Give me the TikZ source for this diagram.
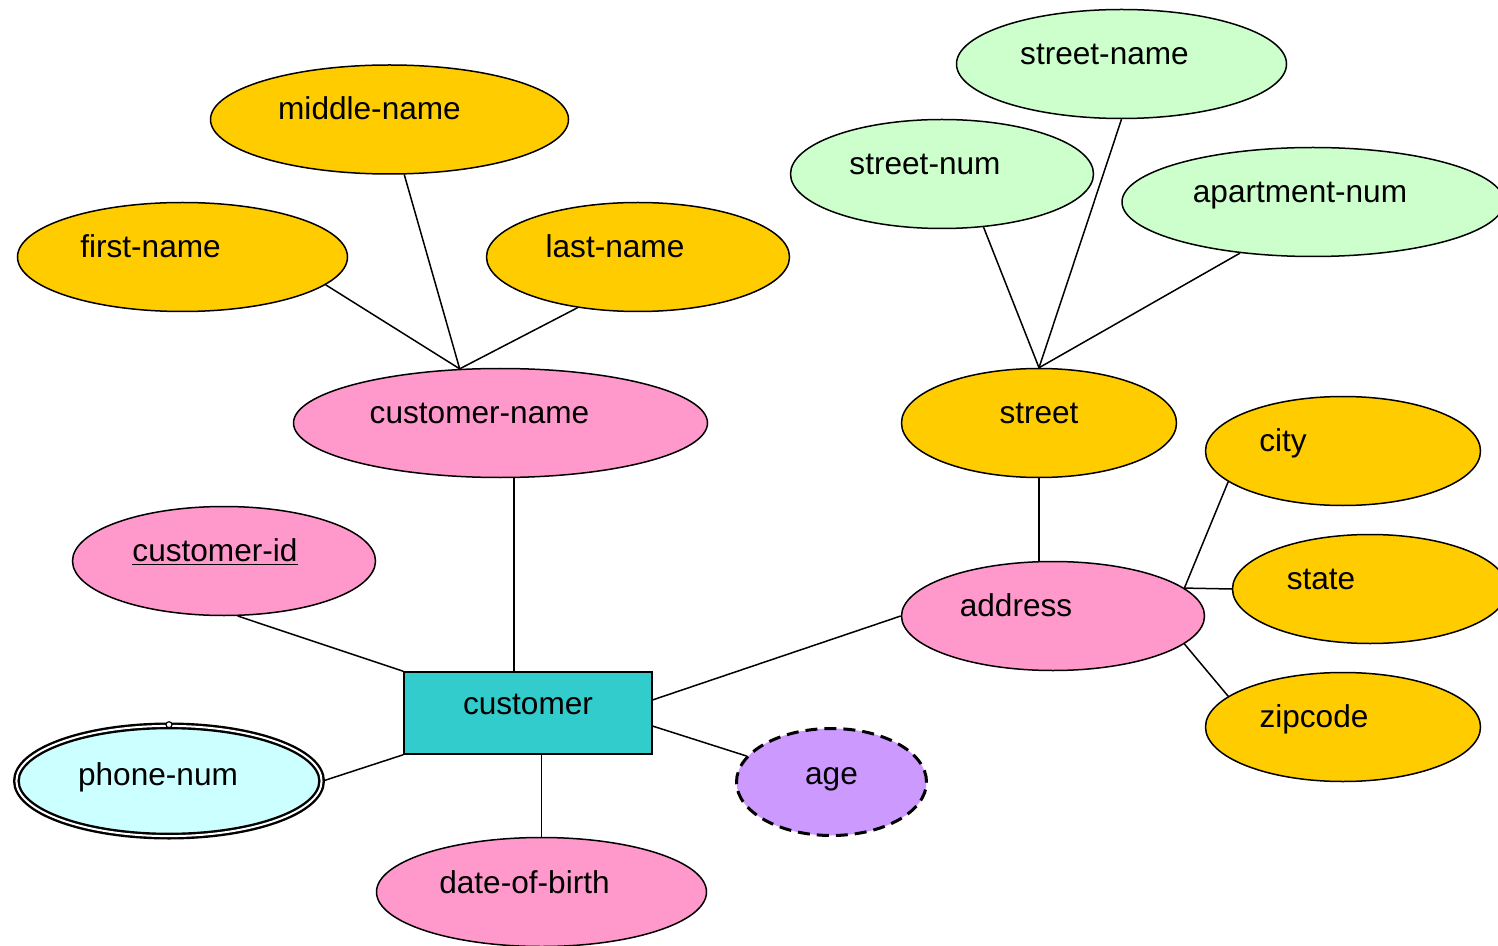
\documentclass[tikz,border=0pt]{standalone}
\usepackage{fontspec}
\setmainfont{Liberation Sans}
\usetikzlibrary{shapes.geometric}

\definecolor{gold}{HTML}{FFCC00}
\definecolor{rose}{HTML}{FF99CC}
\definecolor{mint}{HTML}{CCFFCC}
\definecolor{teal}{HTML}{33CCCC}
\definecolor{lilac}{HTML}{CC99FF}
\definecolor{ice}{HTML}{CCFFFF}

\tikzset{attr/.style = {ellipse, draw, line width=0.75pt, inner sep=0pt,
                        minimum height=54.5pt, minimum width=#1},
         attr/.default=152pt,
         entity/.style = {rectangle, draw, line width=0.75pt, fill=teal,
                          minimum width=124pt, minimum height=41pt},
         every label/.style = {text height=11.3pt, text depth=0pt}
        }

\begin{document}
\begin{tikzpicture}[x=0.5pt, y=-0.5pt, line width=0.75pt,
                    font=\fontsize{15.8}{19}\selectfont]
  \useasboundingbox (0,0) rectangle (1498,946);
  % customer-name and its parts
  \node[attr=179pt, fill=gold, label={[shift={(-20,-11)}]center:middle-name}] (mn) at (389.5,119.5) {};
  \node[attr=165pt, fill=gold, label={[shift={(-32,-11)}]center:first-name}] (fn) at (182.5,257) {};
  \node[attr=151.5pt, fill=gold, label={[shift={(-23,-11)}]center:last-name}] (ln) at (638,257) {};
  \node[attr=207pt, fill=rose, label={[shift={(-21,-11)}]center:customer-name}] (cn) at (500.5,423) {};
  % street and its parts
  \node[attr=165pt, fill=mint, label={[shift={(-17,-11)}]center:street-name}] (stn) at (1121.5,64) {};
  \node[attr=151.5pt, fill=mint, label={[shift={(-17,-11)}]center:street-num}] (sn) at (942,174) {};
  \node[attr=191pt, fill=mint, label={[shift={(-13,-11)}]center:apartment-num}] (an) at (1313,202) {};
  \node[attr=137.5pt, fill=gold, label={[shift={(0,-11)}]center:street}] (street) at (1039,423) {};
  % address
  \node[attr=137.5pt, fill=gold, label={[shift={(-60,-11)}]center:city}] (city) at (1343,451) {};
  \node[attr=137.5pt, fill=gold, label={[shift={(-49,-11)}]center:state}] (state) at (1370,589) {};
  \node[attr=137.5pt, fill=gold, label={[shift={(-29,-11)}]center:zipcode}] (zip) at (1343,727) {};
  \node[attr=151.5pt, fill=rose, label={[shift={(-37,-11)}]center:address}] (addr) at (1053,616) {};
  % customer
  \node[attr=151.5pt, fill=rose, label={[shift={(-9,-11)}]center:\underline{customer-id}}] (ci) at (224,561) {};
  \node[attr=152.6pt, fill=ice, line width=1.2pt, double=white, double distance=1pt, minimum height=55.1pt,
        label={[shift={(-11,-7)}]center:phone-num}] (pn) at (169,781) {};
  \draw[fill=white, line width=0.6pt] (pn.north) circle (1.5pt);
  \node[entity, label={[shift={(0,-10)}]center:customer}] (cust) at (528,713) {};
  \node[attr=95pt, fill=lilac, line width=1.5pt, dash pattern=on 6pt off 3.5pt, minimum height=53.5pt,
        label={[shift={(0,-9)}]center:age}] (age) at (831.5,782) {};
  \node[attr=165pt, fill=rose, label={[shift={(-17,-10)}]center:date-of-birth}] (dob) at (541.5,892) {};

  \draw (fn.-11.5) -- (cn.127);
  \draw (mn.-75.4) -- (cn.127);
  \draw (ln.-140.5) -- (cn.127);
  \draw (cn.-76.2) -- (cn.-76.2 |- cust.north);
  \draw (ci.-76) -- (cust.north west);
  \draw (pn.east) -- (cust.south west);
  \draw (dob.north |- cust.south) -- (dob.north);
  \draw (cust.-6.4) -- (age.163.8);
  \draw (cust.6.9) -- (addr.west);
  \draw (street.south) -- (street.south |- addr.north);
  \draw (street.north) -- (sn.-52.6);
  \draw (street.north) -- (stn.south);
  \draw (street.north) -- (an.-145.8);
  \draw (addr.12.3) -- (city.-165.8);
  \draw (addr.12.3) -- (state.west);
  \draw (addr.-12.7) -- (zip.165.8);
\end{tikzpicture}
\end{document}
